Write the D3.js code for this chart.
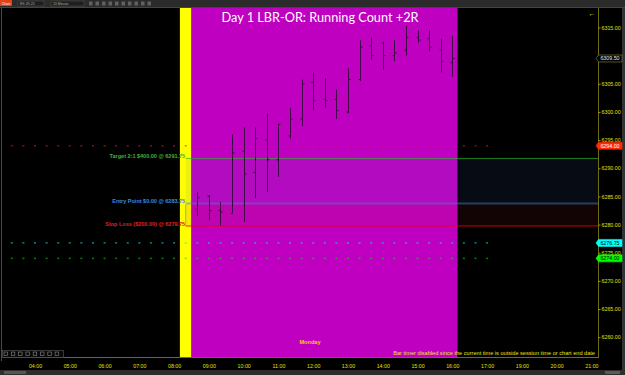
<!DOCTYPE html>
<html><head><meta charset="utf-8">
<script src="https://cdn.jsdelivr.net/npm/d3@7/dist/d3.min.js"></script>
<style>html,body{margin:0;padding:0;background:#000;overflow:hidden}svg{display:block}text{font-family:"Liberation Sans",Arial,sans-serif}</style>
</head><body><svg id="c" width="625" height="375"></svg>
<script>
// ---- data ----
const title = "Day 1 LBR-OR: Running Count +2R";
const barTimes = ["08:40","09:00","09:20","09:40","10:00","10:20","10:40","11:00","11:20","11:40","12:00","12:20","12:40","13:00","13:20","13:40","14:00","14:20","14:40","15:00","15:20","15:40","16:00"];
const opens  = [6282.75,6285.0,6282.5,6282.0,6293.0,6289.25,6295.0,6291.5,6295.75,6298.75,6305.25,6302.25,6302.25,6300.0,6305.75,6311.75,6312.25,6310.0,6311.0,6313.25,6313.0,6311.0,6308.75];
const highs  = [6285.75,6285.25,6284.0,6296.0,6297.25,6297.25,6299.75,6298.0,6300.75,6305.75,6307.0,6306.0,6304.0,6307.75,6312.75,6313.25,6312.5,6312.75,6315.25,6314.5,6314.5,6313.0,6313.5];
const lows   = [6281.5,6280.75,6279.75,6282.0,6280.5,6284.75,6285.75,6288.5,6295.25,6297.5,6300.25,6300.75,6298.75,6299.75,6305.5,6309.25,6307.5,6309.0,6310.0,6312.25,6310.75,6307.0,6306.25];
const closes = [6284.75,6282.5,6282.25,6292.75,6289.0,6295.25,6291.5,6297.75,6298.75,6305.0,6302.0,6302.0,6300.25,6305.75,6311.5,6310.0,6310.0,6310.5,6313.25,6312.75,6311.5,6309.0,6309.5];
const xTickSlots  = [4,5,6,7,8,9,10,11,12,13,14,15,16,17,18,19,20];
const xTickLabels = ["04:00","05:00","06:00","07:00","08:00","09:00","10:00","11:00","12:00","13:00","14:00","15:00","16:00","17:00","19:00","20:00","21:00"];
const yTicks = [6260,6265,6270,6275,6280,6285,6290,6295,6300,6305,6315];
const preSession = ["08:10","08:30"];
const session = ["08:30","16:09"];
const tradeStart = "08:20";
const target = {label:"Target 2:1 $400.00 @ 6291.75", price:6291.75};
const entry  = {label:"Entry Point $0.00 @ 6283.75", price:6283.75};
const stop   = {label:"Stop Loss ($200.00) @ 6279.75", price:6279.75};
const dotLevels = [{price:6294.00, key:"red"},{price:6276.75, key:"cyan"},{price:6274.00, key:"green"}];
const dotRange = ["03:20","17:00"];
const lastPrice = 6309.50;
const dayLabel = "Monday";
const timerMsg = "Bar timer disabled since the current time is outside session time or chart end date";

// ---- helpers ----
const hrs = s => { const [h,m] = s.split(":").map(Number); return h + m/60; };
const svg = d3.select("#c");
const L = 3, R = 598, T = 8, B = 357;
const x = d3.scaleLinear().domain([4,20]).range([35,591.4]);
const y = d3.scaleLinear().domain([6260,6315]).range([337.2,27.5]);

// toolbar
svg.append("rect").attr("x",0).attr("y",0).attr("width",625).attr("height",7).attr("fill","#2b2b2b");
svg.append("rect").attr("x",0).attr("y",7).attr("width",625).attr("height",1).attr("fill","#454545");
svg.append("rect").attr("x",0).attr("y",0).attr("width",12).attr("height",6).attr("fill","#e0401a");
svg.append("text").attr("x",6).attr("y",4.6).attr("text-anchor","middle").attr("font-size",3.5).attr("fill","#fff").text("Chart");
[[18,44,"ES 09-25"],[51,84,"20 Minute"]].forEach(([a,b,t])=>{
  svg.append("rect").attr("x",a).attr("y",1).attr("width",b-a).attr("height",5).attr("fill","#1e1e1e").attr("stroke","#555").attr("stroke-width",0.5);
  svg.append("text").attr("x",a+2).attr("y",4.6).attr("font-size",3.5).attr("fill","#aaa").text(t);
});
d3.range(10).forEach(i=>svg.append("rect").attr("x",89+i*6.5).attr("y",1.5).attr("width",3.5).attr("height",4).attr("fill","#777").attr("opacity",0.7));

// chart panel
svg.append("rect").attr("x",L).attr("y",T).attr("width",R-L).attr("height",B-T).attr("fill","#000");
svg.append("rect").attr("x",1).attr("y",T).attr("width",1).attr("height",B-T+4).attr("fill","#4a4a4a");
svg.append("rect").attr("x",622).attr("y",T).attr("width",3).attr("height",370-T).attr("fill","#333");

// session backgrounds
svg.append("rect").attr("x",x(hrs(preSession[0]))).attr("y",T).attr("width",x(hrs(preSession[1]))-x(hrs(preSession[0]))).attr("height",B-T).attr("fill","#ffff00");
svg.append("rect").attr("x",x(hrs(session[0]))).attr("y",T).attr("width",x(hrs(session[1]))-x(hrs(session[0]))).attr("height",B-T).attr("fill","#c000c0");

// zones
const zx = x(hrs(tradeStart));
svg.append("rect").attr("x",zx).attr("y",y(target.price)).attr("width",R-zx).attr("height",y(entry.price)-y(target.price)).attr("fill","rgb(70,120,200)").attr("opacity",0.1);
svg.append("rect").attr("x",zx).attr("y",y(entry.price)).attr("width",R-zx).attr("height",y(stop.price)-y(entry.price)).attr("fill","rgb(180,40,40)").attr("opacity",0.1);

// dotted levels
const dotCol = {red:"#ff1010", cyan:"#10e0e0", green:"#10d010"};
const dotTimes = d3.range(hrs(dotRange[0]), hrs(dotRange[1])+0.01, 1/3);
dotLevels.forEach(lv=>{
  svg.append("g").selectAll("rect").data(dotTimes).join("rect")
    .attr("x",d=>x(d)-1).attr("y",y(lv.price)-0.75).attr("width",2).attr("height",1.5)
    .attr("fill",dotCol[lv.key]).attr("opacity",0.6);
});

// trade lines
svg.append("line").attr("x1",zx).attr("x2",R).attr("y1",y(target.price)).attr("y2",y(target.price)).attr("stroke","rgb(41,182,41)").attr("stroke-opacity",0.7).attr("stroke-width",1);
svg.append("line").attr("x1",zx).attr("x2",R).attr("y1",y(entry.price)).attr("y2",y(entry.price)).attr("stroke","rgb(70,128,209)").attr("stroke-opacity",0.45).attr("stroke-width",2);
svg.append("line").attr("x1",zx).attr("x2",R).attr("y1",y(stop.price)).attr("y2",y(stop.price)).attr("stroke","rgb(240,0,0)").attr("stroke-opacity",0.85).attr("stroke-width",1);
svg.append("line").attr("x1",zx).attr("x2",zx).attr("y1",y(entry.price)+1).attr("y2",y(stop.price)).attr("stroke","#8a8a8a").attr("stroke-width",0.7);

[[target,"#3cb43c"],[entry,"#3c8ce0"],[stop,"#e02020"]].forEach(([o,c])=>{
  svg.append("text").attr("x",zx-0.5).attr("y",y(o.price)-0.3).attr("text-anchor","end")
    .attr("font-size",5.5).attr("font-weight","bold").attr("fill",c).text(o.label);
});

// bars
const bars = barTimes.map((t,i)=>({t:hrs(t),o:opens[i],h:highs[i],l:lows[i],c:closes[i]}));
const bg = svg.append("g").attr("stroke","#3e0446").attr("stroke-width",1);
bars.forEach(b=>{
  const cx = Math.round(x(b.t))+0.5;
  bg.append("line").attr("x1",cx).attr("x2",cx).attr("y1",y(b.h)).attr("y2",y(b.l));
  bg.append("line").attr("x1",cx-2).attr("x2",cx).attr("y1",y(b.o)).attr("y2",y(b.o));
  bg.append("line").attr("x1",cx).attr("x2",cx+2).attr("y1",y(b.c)).attr("y2",y(b.c));
});

// title
svg.append("text").attr("x",320).attr("y",22).attr("text-anchor","middle").attr("font-size",12.5)
  .style("font-family","'Comic Sans MS',Lato,sans-serif").attr("fill","#fff").attr("textLength",197).attr("lengthAdjust","spacingAndGlyphs").text(title);
// arrow top-right
svg.append("text").attr("x",592).attr("y",16).attr("text-anchor","middle").attr("font-size",7).attr("fill","#e0e000").text("←");

// axes
svg.append("line").attr("x1",598.5).attr("x2",598.5).attr("y1",T).attr("y2",B+1).attr("stroke","#6e6e10").attr("stroke-width",1);
svg.append("line").attr("x1",L).attr("x2",599).attr("y1",B+0.5).attr("y2",B+0.5).attr("stroke","#6e6e10").attr("stroke-width",1);
const yAxis = d3.axisRight(y).tickValues(yTicks).tickSize(2).tickPadding(1).tickFormat(d=>d.toFixed(2));
const ya = svg.append("g").attr("transform","translate(598.5,0)").call(yAxis);
ya.select(".domain").remove();
ya.selectAll("line").attr("stroke","#9a9a20");
ya.selectAll("text").attr("fill","#e0e000").attr("font-size",5.3).style("font-family","'Liberation Sans',Arial,sans-serif");
const xAxis = d3.axisBottom(x).tickValues(xTickSlots).tickSize(0).tickPadding(7).tickFormat((d,i)=>xTickLabels[i]);
const xa = svg.append("g").attr("transform",`translate(0,${B})`).call(xAxis);
xa.select(".domain").remove();
xa.selectAll("text").attr("fill","#e0e000").attr("font-size",5.3).style("font-family","'Liberation Sans',Arial,sans-serif");

// price markers
function marker(p, fill, txt, stroke){
  const yy = y(p);
  svg.append("path").attr("d",`M596,${yy} L598.5,${yy-3.5} L622,${yy-3.5} L622,${yy+3.5} L598.5,${yy+3.5} Z`)
    .attr("fill",fill).attr("stroke",stroke||fill).attr("stroke-width",0.6);
  svg.append("text").attr("x",610).attr("y",yy+1.9).attr("text-anchor","middle").attr("font-size",5.3).attr("fill",txt).text(p.toFixed(2));
}
marker(lastPrice,"#000","#e6e6e6","#8a8a40");
marker(dotLevels[0].price,"#ff2a00","#fff");
marker(dotLevels[1].price,"#00ffff","#000");
marker(dotLevels[2].price,"#00ff00","#000");

// footer texts
svg.append("text").attr("x",310).attr("y",344).attr("text-anchor","middle").attr("font-size",5.6).attr("font-weight","bold").attr("fill","#ffc020").text(dayLabel);
svg.append("text").attr("x",595).attr("y",354.5).attr("text-anchor","end").attr("font-size",5.6).attr("fill","#f0e010").text(timerMsg);

// bottom-left tool box
svg.append("rect").attr("x",2.5).attr("y",350.5).attr("width",61).attr("height",7).attr("fill","#0a0a0a").attr("stroke","#5a5a5a").attr("stroke-width",0.6);
d3.range(8).forEach(i=>svg.append("rect").attr("x",4+i*7.3).attr("y",352).attr("width",3.5).attr("height",3.5).attr("fill","none").attr("stroke","#8a8a8a").attr("stroke-width",0.6));

// scrollbar
svg.append("rect").attr("x",0).attr("y",370).attr("width",625).attr("height",5).attr("fill","#2e2e2e");
svg.append("rect").attr("x",4).attr("y",371).attr("width",22).attr("height",3).attr("fill","#555");
svg.append("rect").attr("x",605).attr("y",371).attr("width",15).attr("height",3).attr("fill","#5a5a5a");
</script></body></html>
